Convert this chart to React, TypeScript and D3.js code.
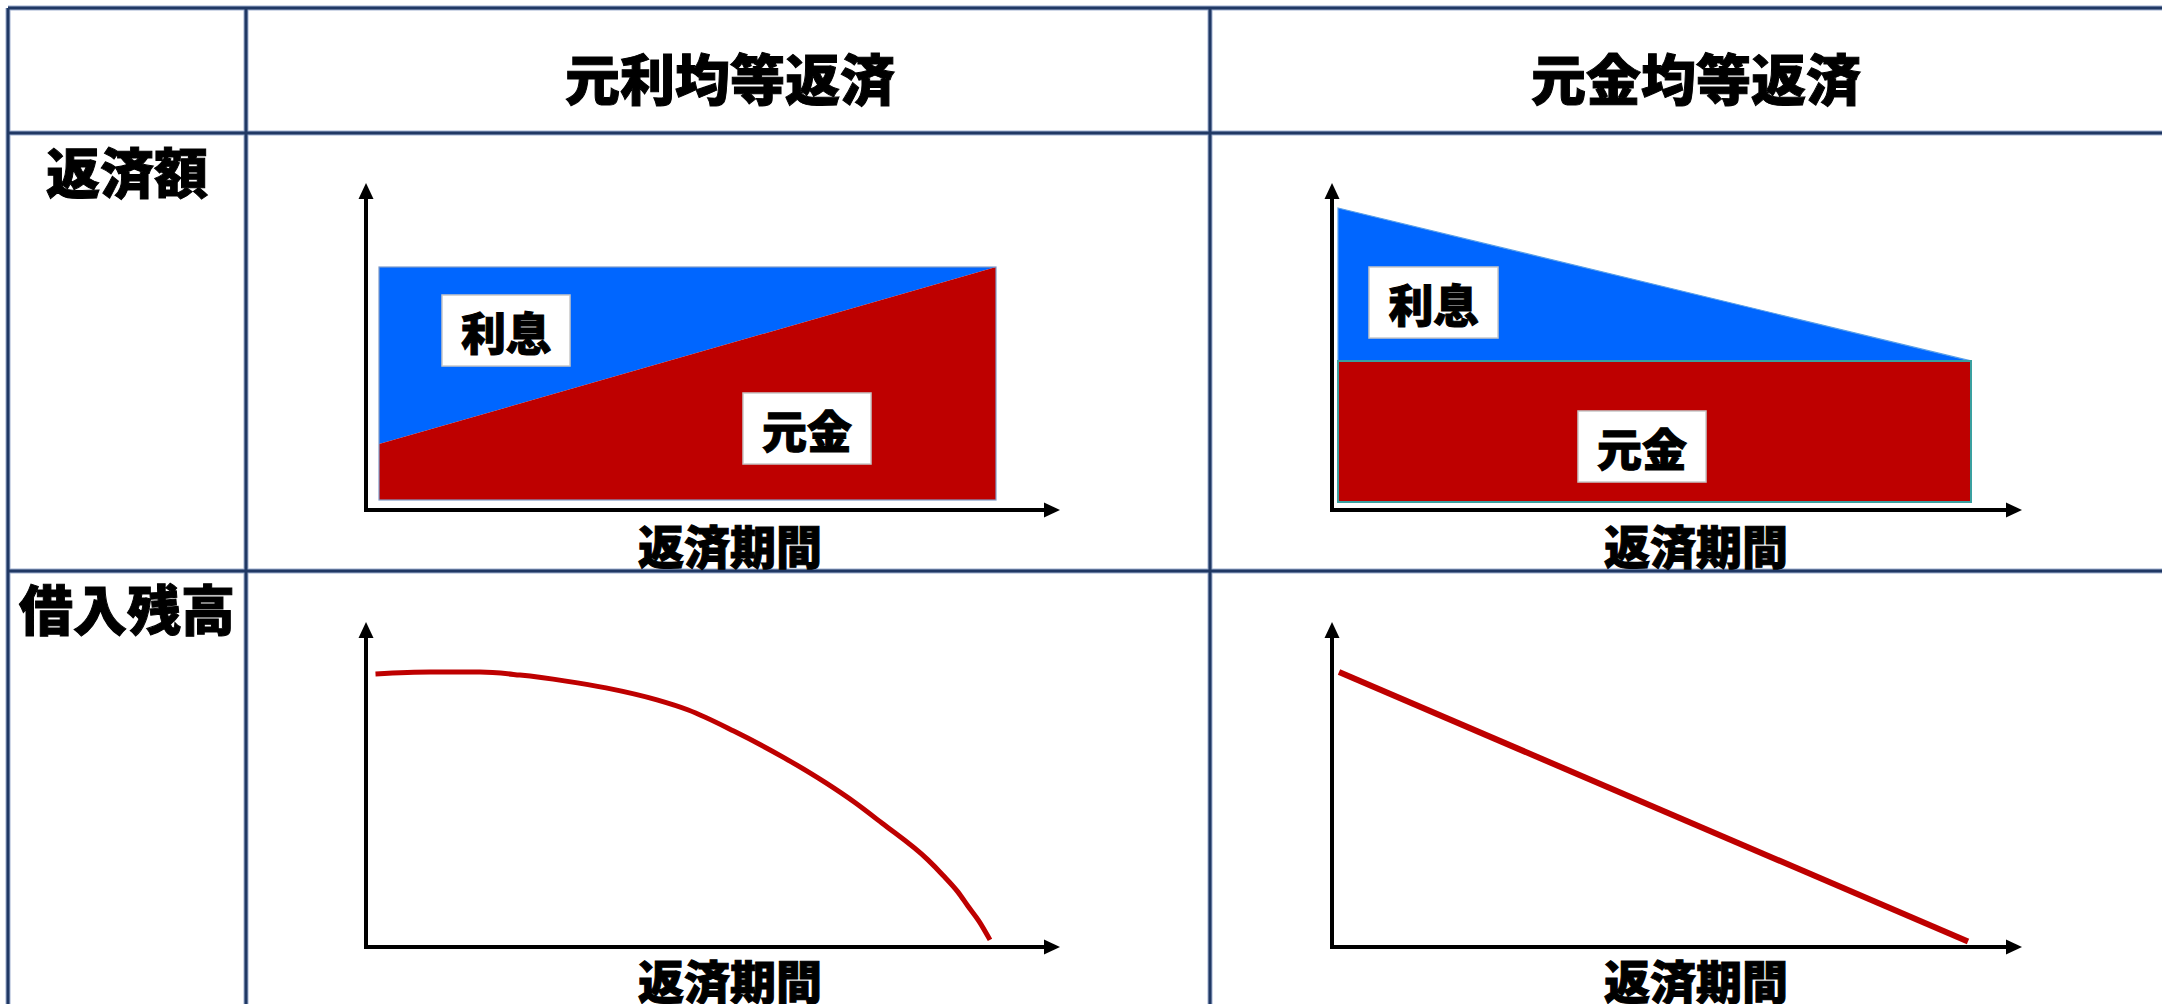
import React from "react";
import * as d3 from "d3";

// ---- data ----
const columnTitles = ["元利均等返済", "元金均等返済"];
const rowTitles = ["返済額", "借入残高"];
const axisLabel = "返済期間";
const interestLabel = "利息";
const principalLabel = "元金";

// payment amount, equal-payment (元利均等)
const periods = [0, 100];
const eqPayTotal = [100, 100];
const eqPayPrincipal = [24, 100];
// payment amount, equal-principal (元金均等)
const eqPrinTotal = [100, 48];
const eqPrinPrincipal = [48, 48];
// outstanding balance, equal-payment
const balEqPayX = [0, 8.9, 17.0, 23.5, 31.0, 37.5, 45.8, 50.9, 58.3, 66.6, 73.3, 77.9, 82.4, 89.9, 92.3, 94.8, 96.4, 98.2, 100];
const balEqPayY = [100, 100.7, 100.7, 99.6, 97.4, 94.9, 90.5, 86.8, 79.1, 69.2, 60.1, 53.1, 45.4, 31.9, 26.4, 20.1, 15.0, 9.5, 2.6];
// outstanding balance, equal-principal
const balEqPrinX = [0, 100];
const balEqPrinY = [100, 2];

// ---- style ----
const W = 2162;
const H = 1004;
const BLUE = "#0066FF";
const RED = "#BE0000";
const GRID = "#203864";
const FONT = "'Noto Sans CJK JP', 'Noto Sans CJK SC', sans-serif";

const colX = [8, 246, 1210, 2178];
const rowY = [8, 133, 571, 1010];

type Pt = { x: number; y: number };

const textStyle = {
  fontFamily: FONT,
  fontWeight: 900,
  fill: "#000",
  stroke: "#000",
  strokeWidth: 1,
} as const;

function Arrow({ x1, y1, x2, y2 }: { x1: number; y1: number; x2: number; y2: number }) {
  const ang = Math.atan2(y2 - y1, x2 - x1);
  const len = 16;
  const hw = 7.5;
  const bx = x2 - len * Math.cos(ang);
  const by = y2 - len * Math.sin(ang);
  const px = -Math.sin(ang) * hw;
  const py = Math.cos(ang) * hw;
  return (
    <g>
      <line x1={x1} y1={y1} x2={bx} y2={by} stroke="#000" strokeWidth={4} />
      <polygon points={`${x2},${y2} ${bx + px},${by + py} ${bx - px},${by - py}`} fill="#000" />
    </g>
  );
}

function Axes({ ox, oy, xTip, yTip }: { ox: number; oy: number; xTip: number; yTip: number }) {
  return (
    <g>
      <Arrow x1={ox} y1={oy + 2} x2={ox} y2={yTip} />
      <Arrow x1={ox - 2} y1={oy} x2={xTip} y2={oy} />
    </g>
  );
}

function LabelBox({ x, y, w, h, text }: { x: number; y: number; w: number; h: number; text: string }) {
  return (
    <g>
      <rect x={x} y={y} width={w} height={h} fill="#fff" stroke="#c8c8c8" strokeWidth={1.5} />
      <text x={x + w / 2} y={y + h / 2 + 1} textAnchor="middle" dominantBaseline="central"
        fontSize={45} {...textStyle}>{text}</text>
    </g>
  );
}

export default function App() {
  // chart 1
  const x1 = d3.scaleLinear().domain([0, 100]).range([379, 996]);
  const y1 = d3.scaleLinear().domain([0, 100]).range([500, 267]);
  const c1 = periods.map((p, i) => ({ p, t: eqPayTotal[i], pr: eqPayPrincipal[i] }));
  const area1Int = d3.area<any>().x(d => x1(d.p)).y0(d => y1(d.pr)).y1(d => y1(d.t))(c1) || "";
  const area1Pr = d3.area<any>().x(d => x1(d.p)).y0(() => y1(0)).y1(d => y1(d.pr))(c1) || "";

  // chart 2
  const x2 = d3.scaleLinear().domain([0, 100]).range([1338, 1971]);
  const y2 = d3.scaleLinear().domain([0, 100]).range([502, 208]);
  const c2 = periods.map((p, i) => ({ p, t: eqPrinTotal[i], pr: eqPrinPrincipal[i] }));
  const area2Int = d3.area<any>().x(d => x2(d.p)).y0(d => y2(d.pr)).y1(d => y2(d.t))(c2) || "";
  const area2Pr = d3.area<any>().x(d => x2(d.p)).y0(() => y2(0)).y1(d => y2(d.pr))(c2) || "";

  // chart 3
  const x3 = d3.scaleLinear().domain([0, 100]).range([375.5, 990]);
  const y3 = d3.scaleLinear().domain([0, 100]).range([947, 674]);
  const c3: Pt[] = balEqPayX.map((x, i) => ({ x, y: balEqPayY[i] }));
  const line3 = d3.line<Pt>().x(d => x3(d.x)).y(d => y3(d.y)).curve(d3.curveMonotoneX)(c3) || "";

  // chart 4
  const x4 = d3.scaleLinear().domain([0, 100]).range([1339, 1968]);
  const y4 = d3.scaleLinear().domain([0, 100]).range([947, 672]);
  const c4: Pt[] = balEqPrinX.map((x, i) => ({ x, y: balEqPrinY[i] }));
  const line4 = d3.line<Pt>().x(d => x4(d.x)).y(d => y4(d.y))(c4) || "";

  const gridLines: { x1: number; y1: number; x2: number; y2: number }[] = [];
  colX.forEach(x => gridLines.push({ x1: x, y1: rowY[0], x2: x, y2: rowY[3] }));
  rowY.forEach(y => gridLines.push({ x1: colX[0], y1: y, x2: colX[3], y2: y }));

  const colCenters = [(colX[1] + colX[2]) / 2, (colX[2] + colX[3]) / 2];

  return (
    <div style={{ position: "fixed", left: 0, top: 0, width: W, height: H, background: "#fff" }}>
      <svg width={W} height={H} viewBox={`0 0 ${W} ${H}`} style={{ display: "block" }}>
        <rect x={0} y={0} width={W} height={H} fill="#fff" />
        {/* grid */}
        {gridLines.map((l, i) => (
          <line key={"gb" + i} {...l} stroke="#9fb0d0" strokeWidth={5} />
        ))}
        {gridLines.map((l, i) => (
          <line key={"g" + i} {...l} stroke={GRID} strokeWidth={3} />
        ))}

        {/* headers */}
        {columnTitles.map((t, i) => (
          <text key={t} x={colCenters[i] + 2} y={76} textAnchor="middle" dominantBaseline="central"
            fontSize={55} {...textStyle}>{t}</text>
        ))}
        {rowTitles.map((t, i) => (
          <text key={t} x={127} y={i === 0 ? 170 : 607} textAnchor="middle" dominantBaseline="central"
            fontSize={54} {...textStyle}>{t}</text>
        ))}

        {/* chart 1 */}
        <path d={area1Int} fill={BLUE} />
        <path d={area1Pr} fill={RED} />
        <rect x={x1(0)} y={y1(100)} width={x1(100) - x1(0)} height={y1(0) - y1(100)} fill="none" stroke="#7f9bc8" strokeWidth={1.2} />
        <Axes ox={366} oy={510} xTip={1060} yTip={183} />
        <LabelBox x={442} y={295} w={128} h={71} text={interestLabel} />
        <LabelBox x={743} y={393} w={128} h={71} text={principalLabel} />
        <text x={730} y={544} textAnchor="middle" dominantBaseline="central" fontSize={46} {...textStyle}>{axisLabel}</text>

        {/* chart 2 */}
        <path d={area2Int} fill={BLUE} stroke="#5aa0e8" strokeWidth={1.2} />
        <path d={area2Pr} fill={RED} stroke="#3aa0a0" strokeWidth={2} />
        <Axes ox={1332} oy={510} xTip={2022} yTip={183} />
        <LabelBox x={1369} y={267} w={129} h={71} text={interestLabel} />
        <LabelBox x={1578} y={411} w={128} h={71} text={principalLabel} />
        <text x={1696} y={544} textAnchor="middle" dominantBaseline="central" fontSize={46} {...textStyle}>{axisLabel}</text>

        {/* chart 3 */}
        <Axes ox={366} oy={947} xTip={1060} yTip={622} />
        <path d={line3} fill="none" stroke={RED} strokeWidth={5} strokeLinejoin="round" />
        <text x={730} y={979} textAnchor="middle" dominantBaseline="central" fontSize={46} {...textStyle}>{axisLabel}</text>

        {/* chart 4 */}
        <Axes ox={1332} oy={947} xTip={2022} yTip={622} />
        <path d={line4} fill="none" stroke={RED} strokeWidth={6} />
        <text x={1696} y={979} textAnchor="middle" dominantBaseline="central" fontSize={46} {...textStyle}>{axisLabel}</text>
      </svg>
    </div>
  );
}
